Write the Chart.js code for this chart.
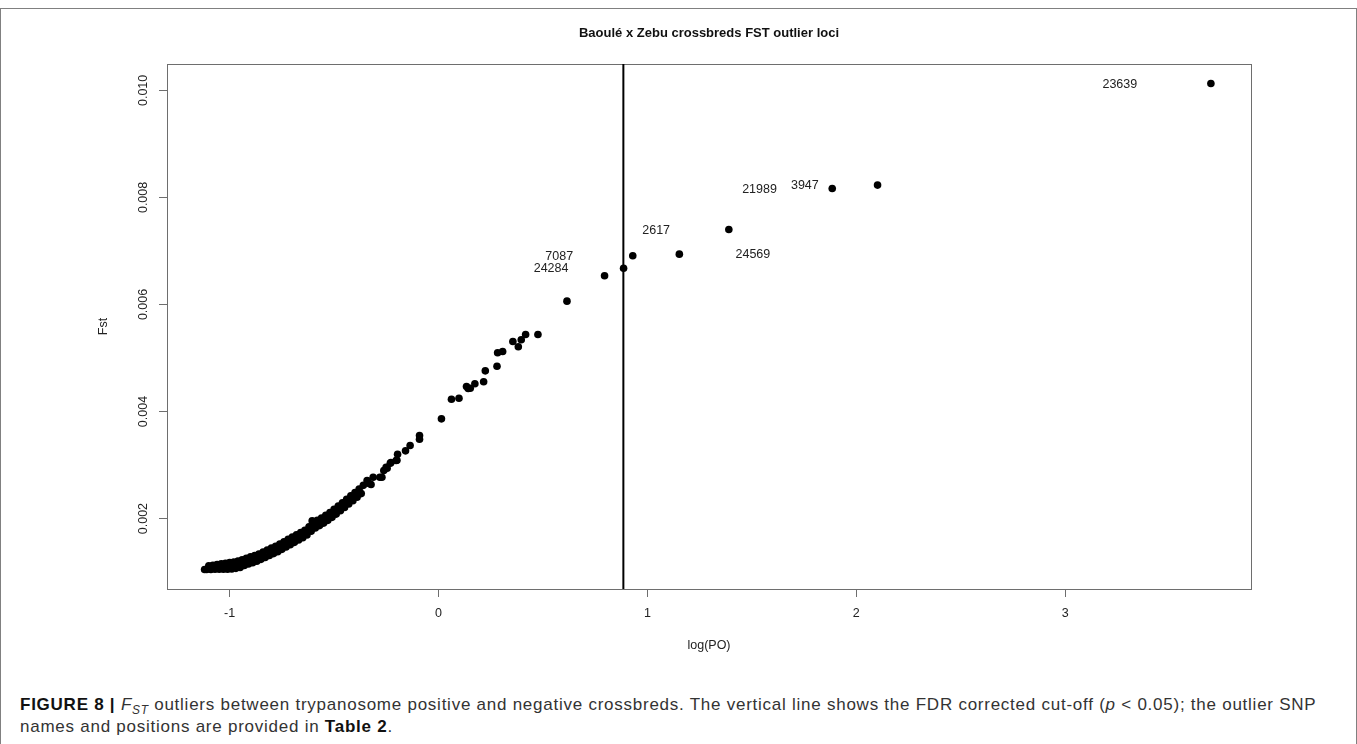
<!DOCTYPE html>
<html>
<head>
<meta charset="utf-8">
<script src="https://cdn.jsdelivr.net/npm/chart.js@4.4.1/dist/chart.umd.min.js"></script>
<style>
  body { margin: 0; background: #fff; width: 1357px; height: 744px; overflow: hidden; position: relative;
         font-family: "Liberation Sans", Arial, sans-serif; }
  #frame { position: absolute; left: 0; top: 8px; width: 1355px; height: 800px; border: 1px solid #808080; }
  #wrap { position: absolute; left: 0; top: 0; width: 1357px; height: 680px; }
  #caption { position: absolute; left: 20px; top: 694px; font-size: 17px; letter-spacing: 0.75px; line-height: 22px;
             color: #333; white-space: nowrap; }
  #caption b { color: #111; }
  #caption sub { font-size: 70%; line-height: 0; }
</style>
</head>
<body>
<div id="frame"></div>
<div id="wrap"><canvas id="mycanvas" width="1357" height="680"></canvas></div>
<div id="caption"><b>FIGURE 8 |</b> <i>F</i><sub><i>ST</i></sub> outliers between trypanosome positive and negative crossbreds. The vertical line shows the FDR corrected cut-off (<i>p</i> &lt; 0.05); the outlier SNP<br>names and positions are provided in <b>Table 2</b>.</div>
<script>
// axis set-up
var xTicks = [-1, 0, 1, 2, 3];
var yTicks = [0.002, 0.004, 0.006, 0.008, 0.010];
var xRange = [-1.30, 3.89];
var yRange = [0.000684, 0.010493];
var cutoff = 0.885;

// dense band of loci (left end, lower edge, upper edge)
var coreLogPO = [-1.12, -1.10, -1.08, -1.06, -1.04, -1.02, -1.00, -0.98, -0.96, -0.94, -0.92];
var coreFst = [0.001047, 0.001083, 0.00109, 0.001097, 0.001103, 0.00111, 0.001116, 0.001123, 0.001139, 0.001158, 0.001189];

var lowerLogPO = [-1.11, -1.09, -1.07, -1.05, -1.03, -1.01, -0.99, -0.97, -0.95, -0.93, -0.91, -0.89, -0.87,
  -0.85, -0.83, -0.81, -0.79, -0.77, -0.75, -0.73, -0.71, -0.69, -0.67, -0.65, -0.63, -0.61, -0.59, -0.57,
  -0.55, -0.53, -0.51, -0.49, -0.47, -0.45, -0.43, -0.41, -0.39, -0.37];
var lowerFst = [0.001048, 0.00105, 0.001052, 0.001053, 0.001054, 0.001055, 0.001058, 0.00107, 0.001088,
  0.001122, 0.00115, 0.001176, 0.001203, 0.001238, 0.001274, 0.001309, 0.001345, 0.001382, 0.001425,
  0.001469, 0.001513, 0.001556, 0.001599, 0.001641, 0.001694, 0.001762, 0.001824, 0.001869, 0.001915,
  0.001967, 0.002023, 0.002083, 0.002145, 0.002208, 0.002271, 0.002334, 0.002398, 0.002466];

var upperLogPO = [-1.10, -1.08, -1.06, -1.04, -1.02, -1.00, -0.98, -0.96, -0.94, -0.92, -0.90, -0.88, -0.86,
  -0.84, -0.82, -0.80, -0.78, -0.76, -0.74, -0.72, -0.70, -0.68, -0.66, -0.64, -0.62, -0.60, -0.58, -0.56,
  -0.54, -0.52, -0.50, -0.48, -0.46, -0.44, -0.42, -0.40, -0.38, -0.36];
var upperFst = [0.001116, 0.001129, 0.00114, 0.001153, 0.001165, 0.001176, 0.001189, 0.001208, 0.001228,
  0.001256, 0.001284, 0.001307, 0.001339, 0.001376, 0.001411, 0.001447, 0.001482, 0.001522, 0.001568,
  0.001611, 0.001654, 0.001697, 0.00174, 0.001782, 0.001845, 0.00192, 0.001967, 0.00201, 0.00206,
  0.002114, 0.002172, 0.002234, 0.002296, 0.002359, 0.002423, 0.002484, 0.002552, 0.002621];

// sparser loci above the band
var tailLogPO = [-0.605, -0.342, -0.332, -0.323, -0.313, -0.281, -0.271, -0.262, -0.251, -0.246, -0.231,
  -0.228, -0.203, -0.199, -0.196, -0.158, -0.136, -0.091, -0.091, 0.014, 0.062, 0.098, 0.134, 0.142,
  0.152, 0.174, 0.216, 0.224, 0.280, 0.283, 0.307, 0.356, 0.382, 0.396, 0.417, 0.476];
var tailFst = [0.00196, 0.00271, 0.002654, 0.002636, 0.002772, 0.002772, 0.002772, 0.002897, 0.002959,
  0.00294, 0.003034, 0.003047, 0.003084, 0.00309, 0.003202, 0.003265, 0.003364, 0.003551, 0.003482,
  0.003863, 0.00423, 0.004249, 0.004467, 0.00443, 0.004436, 0.004518, 0.004555, 0.00476, 0.004847,
  0.005097, 0.005121, 0.005308, 0.005209, 0.00534, 0.005439, 0.005439];

// outliers
var outlierLogPO = [0.615, 0.795, 0.886, 0.930, 1.153, 1.390, 1.885, 2.102, 3.698];
var outlierFst = [0.006062, 0.006536, 0.006678, 0.00691, 0.00694, 0.007402, 0.008168, 0.00823, 0.01013];

// SNP labels, centre of each text
var labelText = ['23639', '3947', '21989', '2617', '24569', '7087', '24284'];
var labelLogPO = [3.262, 1.754, 1.537, 1.042, 1.505, 0.578, 0.539];
var labelFst = [0.010112, 0.008219, 0.008155, 0.007389, 0.006935, 0.006903, 0.006667];

function pts(xs, ys) {
  return xs.map(function (x, i) { return { x: x, y: ys[i] }; });
}
var points = [].concat(pts(coreLogPO, coreFst), pts(lowerLogPO, lowerFst), pts(upperLogPO, upperFst),
  pts(tailLogPO, tailFst), pts(outlierLogPO, outlierFst));

var FONT = '"Liberation Sans", Arial, sans-serif';
Chart.defaults.font.family = FONT;
Chart.defaults.color = '#222';

var decor = {
  id: 'decor',
  beforeDatasetsDraw: function (chart) {
    var a = chart.chartArea, ctx = chart.ctx;
    ctx.save();
    ctx.strokeStyle = '#6e6e6e';
    ctx.lineWidth = 1;
    ctx.strokeRect(a.left + 0.5, a.top + 0.5, a.right - a.left, a.bottom - a.top);
    ctx.restore();
  },
  afterDatasetsDraw: function (chart) {
    var a = chart.chartArea, ctx = chart.ctx;
    var xs = chart.scales.x, ys = chart.scales.y;
    ctx.save();
    var lx = xs.getPixelForValue(cutoff);
    ctx.strokeStyle = '#000';
    ctx.lineWidth = 2;
    ctx.beginPath();
    ctx.moveTo(lx, a.top);
    ctx.lineTo(lx, a.bottom);
    ctx.stroke();
    ctx.fillStyle = '#222';
    ctx.font = '12.5px ' + FONT;
    ctx.textAlign = 'center';
    ctx.textBaseline = 'middle';
    for (var i = 0; i < labelText.length; i++) {
      ctx.fillText(labelText[i], xs.getPixelForValue(labelLogPO[i]), ys.getPixelForValue(labelFst[i]));
    }
    ctx.restore();
  }
};

var ctx = document.getElementById('mycanvas');
var chart = new Chart(ctx, {
  type: 'scatter',
  data: {
    datasets: [{
      label: 'loci',
      data: points,
      backgroundColor: '#000',
      borderWidth: 0,
      pointRadius: 3.8,
      pointHoverRadius: 3.8
    }]
  },
  options: {
    responsive: false,
    animation: false,
    layout: { padding: { left: 96, right: 106, top: 8, bottom: 16 } },
    plugins: {
      legend: { display: false },
      tooltip: { enabled: false },
      title: {
        display: true,
        text: 'Baoulé x Zebu crossbreds FST outlier loci',
        fullSize: false,
        color: '#111',
        font: { size: 13, weight: 'bold' },
        padding: { top: 17.2, bottom: 23.2 }
      }
    },
    scales: {
      x: {
        type: 'linear',
        min: xRange[0],
        max: xRange[1],
        afterBuildTicks: function (s) { s.ticks = xTicks.map(function (v) { return { value: v }; }); },
        afterFit: function (s) { s.height = 75; },
        border: { display: false },
        grid: { drawOnChartArea: false, drawTicks: true, tickLength: 8, color: '#6e6e6e' },
        ticks: { padding: 9, autoSkip: false, maxRotation: 0, font: { size: 12.5 },
          callback: function (v) { return String(v); } },
        title: { display: true, text: 'log(PO)', font: { size: 12.5 }, padding: { top: 0, bottom: 10.5 } }
      },
      y: {
        type: 'linear',
        min: yRange[0],
        max: yRange[1],
        afterBuildTicks: function (s) { s.ticks = yTicks.map(function (v) { return { value: v }; }); },
        afterFit: function (s) { s.width = 71; },
        border: { display: false },
        grid: { drawOnChartArea: false, drawTicks: true, tickLength: 8, color: '#6e6e6e' },
        ticks: { padding: 0, autoSkip: false, minRotation: 90, maxRotation: 90, crossAlign: 'center',
          font: { size: 12.5 }, callback: function (v) { return v.toFixed(3); } },
        title: { display: true, text: 'Fst', font: { size: 12.5 }, padding: { top: 0, bottom: 0 } }
      }
    }
  },
  plugins: [decor]
});
</script>
</body>
</html>
